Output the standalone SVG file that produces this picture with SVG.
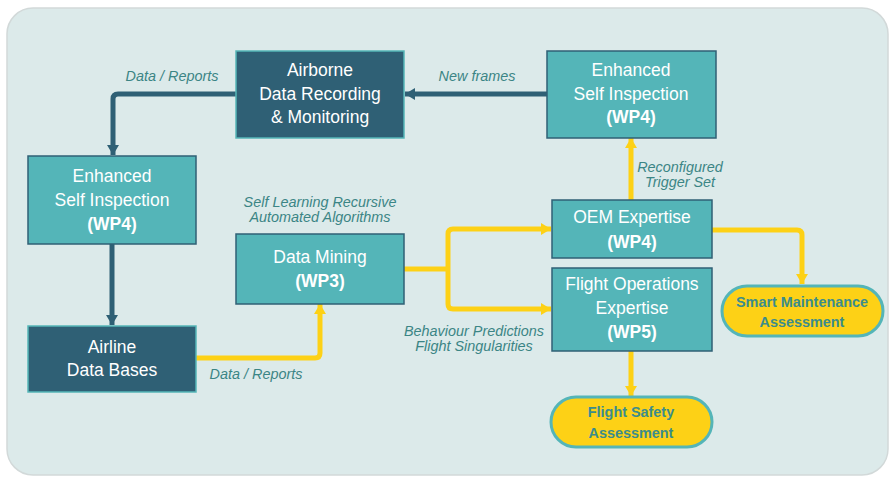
<svg xmlns="http://www.w3.org/2000/svg" width="890" height="477" viewBox="0 0 890 477">
  <style>
    .dark rect { fill: #2f6075; stroke: #55b6b8; stroke-width: 1.5; }
    .light rect { fill: #54b5b8; stroke: #2f6075; stroke-width: 1.5; }
    .pill rect { fill: #fdd116; stroke: #54b5b8; stroke-width: 3; }
    .node text { font-family: "Liberation Sans", Arial, sans-serif; font-size: 17.5px; fill: #ffffff; text-anchor: middle; }
    .pill text { font-weight: bold; font-size: 14.4px; fill: #3b8c8c; }
    .lbl { font-family: "Liberation Sans", Arial, sans-serif; font-style: italic; font-size: 14.4px; fill: #3b8585; text-anchor: middle; }
    .cd { fill: none; stroke: #2f6075; stroke-width: 5; stroke-linejoin: round; }
    .cy { fill: none; stroke: #fdd116; stroke-width: 5; stroke-linejoin: round; }
  </style>
  <defs>
    <marker id="ad" markerUnits="userSpaceOnUse" markerWidth="14" markerHeight="14" viewBox="0 0 14 14" refX="10" refY="7" orient="auto">
      <path d="M0,1 L10,7 L0,13 Z" fill="#2f6075"/>
    </marker>
    <marker id="ay" markerUnits="userSpaceOnUse" markerWidth="14" markerHeight="14" viewBox="0 0 14 14" refX="10" refY="7" orient="auto">
      <path d="M0,1 L10,7 L0,13 Z" fill="#fdd116"/>
    </marker>
  </defs>

  <!-- panel -->
  <rect x="7" y="8" width="881" height="467" rx="26" fill="#dceaea" stroke="#d2d9d9" stroke-width="1.5"/>

  <!-- connectors -->
  <g id="connectors">
    <path class="cd" d="M236,94 H118 Q113,94 113,99 V155" marker-end="url(#ad)"/>
    <path class="cd" d="M547,94 H405" marker-end="url(#ad)"/>
    <path class="cd" d="M112,244 V325" marker-end="url(#ad)"/>
    <path class="cy" d="M196,358 H315 Q320,358 320,353 V304" marker-end="url(#ay)"/>
    <path class="cy" d="M404,269 H448"/>
    <path class="cy" d="M448,269 V234 Q448,229 453,229 H551" marker-end="url(#ay)"/>
    <path class="cy" d="M448,269 V304 Q448,309 453,309 H551" marker-end="url(#ay)"/>
    <path class="cy" d="M631,200 V138" marker-end="url(#ay)"/>
    <path class="cy" d="M712,230 H797 Q802,230 802,235 V284" marker-end="url(#ay)"/>
    <path class="cy" d="M631,351 V396" marker-end="url(#ay)"/>
  </g>

  <!-- connector labels -->
  <g id="labels">
    <text class="lbl" x="172" y="81">Data / Reports</text>
    <text class="lbl" x="477" y="81">New frames</text>
    <text class="lbl" x="320" y="207">Self Learning Recursive</text>
    <text class="lbl" x="320" y="222">Automated Algorithms</text>
    <text class="lbl" x="680" y="172">Reconfigured</text>
    <text class="lbl" x="680" y="187">Trigger Set</text>
    <text class="lbl" x="474" y="336">Behaviour Predictions</text>
    <text class="lbl" x="474" y="351">Flight Singularities</text>
    <text class="lbl" x="256" y="379">Data / Reports</text>
  </g>

  <!-- nodes -->
  <g id="airborne" class="node dark">
    <rect x="236" y="51" width="168" height="87"/>
    <text x="320" y="76">Airborne</text>
    <text x="320" y="100">Data Recording</text>
    <text x="320" y="123">&amp; Monitoring</text>
  </g>
  <g id="esi-left" class="node light">
    <rect x="28" y="156" width="168" height="88"/>
    <text x="112" y="182">Enhanced</text>
    <text x="112" y="206">Self Inspection</text>
    <text x="112" y="230" font-weight="bold">(WP4)</text>
  </g>
  <g id="esi-right" class="node light">
    <rect x="547" y="51" width="169" height="87"/>
    <text x="631" y="76">Enhanced</text>
    <text x="631" y="100">Self Inspection</text>
    <text x="631" y="123" font-weight="bold">(WP4)</text>
  </g>
  <g id="data-mining" class="node light">
    <rect x="236" y="234" width="168" height="70"/>
    <text x="320" y="263">Data Mining</text>
    <text x="320" y="287" font-weight="bold">(WP3)</text>
  </g>
  <g id="airline" class="node dark">
    <rect x="28" y="326" width="168" height="66"/>
    <text x="112" y="353">Airline</text>
    <text x="112" y="376">Data Bases</text>
  </g>
  <g id="oem" class="node light">
    <rect x="552" y="200" width="160" height="58"/>
    <text x="632" y="223">OEM Expertise</text>
    <text x="632" y="248" font-weight="bold">(WP4)</text>
  </g>
  <g id="flight-ops" class="node light">
    <rect x="552" y="268" width="160" height="83"/>
    <text x="632" y="290">Flight Operations</text>
    <text x="632" y="314">Expertise</text>
    <text x="632" y="338" font-weight="bold">(WP5)</text>
  </g>
  <g id="smart-maintenance" class="node pill">
    <rect x="722" y="286" width="161" height="50" rx="25"/>
    <text x="802" y="307">Smart Maintenance</text>
    <text x="802" y="327">Assessment</text>
  </g>
  <g id="flight-safety" class="node pill">
    <rect x="551" y="397" width="161" height="50" rx="25"/>
    <text x="631" y="417">Flight Safety</text>
    <text x="631" y="438">Assessment</text>
  </g>
</svg>
